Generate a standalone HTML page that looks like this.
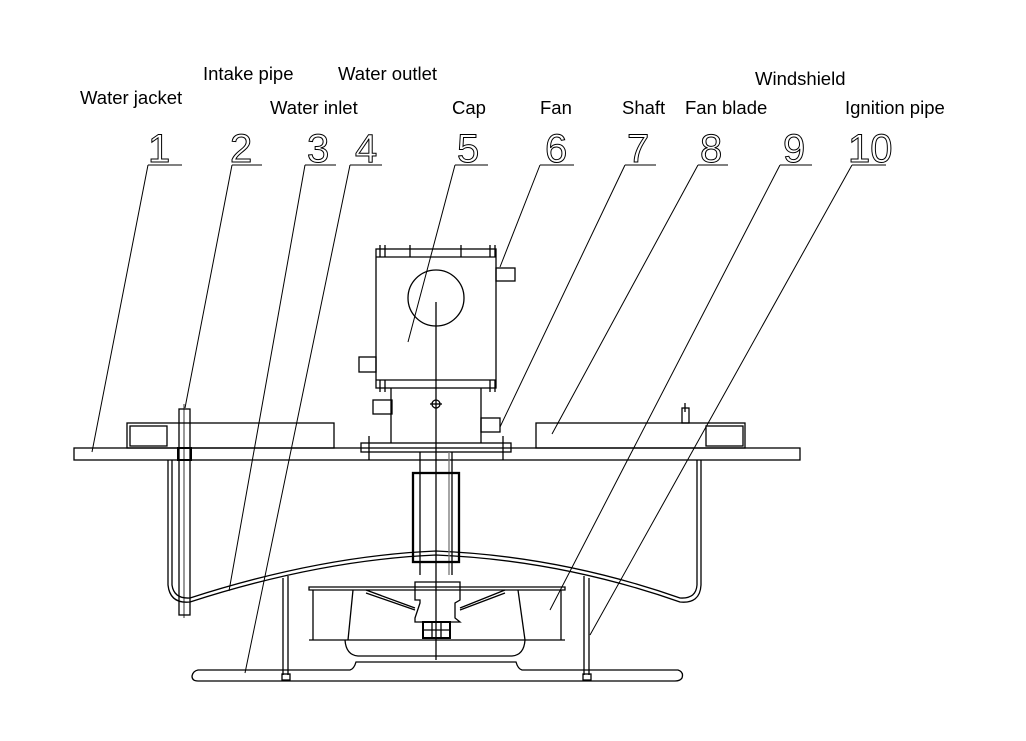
<!DOCTYPE html>
<html><head><style>
body{margin:0;background:#fff;}
svg{display:block;}
text{font-family:"Liberation Sans",Arial,sans-serif;font-size:18.5px;fill:#000;}
.n{font-family:"Liberation Sans",sans-serif;font-size:40px;font-weight:100;fill:none;stroke:#000;stroke-width:1;}
</style></head><body>
<svg width="1026" height="741" viewBox="0 0 1026 741" xmlns="http://www.w3.org/2000/svg">
<rect width="1026" height="741" fill="#fff"/>
<g>
<text x="80" y="104">Water jacket</text>
<text x="203" y="80">Intake pipe</text>
<text x="338" y="80">Water outlet</text>
<text x="270" y="114">Water inlet</text>
<text x="452" y="114">Cap</text>
<text x="540" y="114">Fan</text>
<text x="622" y="114">Shaft</text>
<text x="685" y="114">Fan blade</text>
<text x="755" y="85">Windshield</text>
<text x="845" y="114">Ignition pipe</text>
</g>
<g>
<text class="n" x="148" y="162">1</text>
<text class="n" x="230" y="162">2</text>
<text class="n" x="307" y="162">3</text>
<text class="n" x="355" y="162">4</text>
<text class="n" x="457" y="162">5</text>
<text class="n" x="545" y="162">6</text>
<text class="n" x="627" y="162">7</text>
<text class="n" x="700" y="162">8</text>
<text class="n" x="783" y="162">9</text>
<text class="n" x="848" y="162">10</text>
</g>
<g stroke="#000" stroke-width="1" fill="none">
<path d="M148 165H182M148 165L92 452"/>
<path d="M232 165H262M232 165L185 408"/>
<path d="M305 165H336M305 165L229 591"/>
<path d="M350 165H382M350 165L245 673"/>
<path d="M455 165H488M455 165L408 342"/>
<path d="M540 165H574M540 165L500 267"/>
<path d="M625 165H656M625 165L500 427"/>
<path d="M698 165H728M698 165L552 434"/>
<path d="M780 165H812M780 165L550 610"/>
<path d="M852 165H886M852 165L590 635"/>
</g>
<g stroke="#000" stroke-width="1.3" fill="none">
<rect x="74" y="448" width="726" height="12"/>
<rect x="127" y="423" width="207" height="25"/>
<rect x="130" y="426" width="37" height="20"/>
<rect x="536" y="423" width="209" height="25"/>
<rect x="706" y="426" width="37" height="20"/>
<rect x="682" y="408" width="7" height="15"/><path d="M685 403V412"/>
<rect x="179" y="409" width="11" height="206"/>
<path d="M184 404V618" stroke-width="0.8"/>
<rect x="178" y="448" width="13" height="12" stroke-width="2"/>
<path d="M168 460V585Q170 604 190 602Q320 560 436 555Q560 560 680 602Q700 604 701 585V460"/>
<path d="M172 460V585Q174 599 190 598Q320 556 436 551Q560 556 680 598Q696 599 697 585V460"/>
<rect x="376" y="249" width="120" height="139"/>
<path d="M376 257H496M376 380H496"/>
<circle cx="436" cy="298" r="28"/>
<rect x="359" y="357" width="17" height="15"/>
<rect x="496" y="268" width="19" height="13"/>
<path d="M380 245V257M385 245V257M490 245V257M495 245V257M410 245V257M461 245V257M380 380V392M385 380V392M490 380V392M495 380V392"/>
<path d="M391 388V443M481 388V443"/>
<rect x="373" y="400" width="19" height="14"/>
<rect x="481" y="418" width="19" height="14"/>
<rect x="361" y="443" width="150" height="9"/>
<path d="M369 436V460M503 436V460"/>
<circle cx="436" cy="404" r="4"/>
<path d="M430 404H442"/>
<path d="M436 302V660"/>
<path d="M420 452V575M452 452V575"/>
<path d="M449 452V575" stroke="#777"/>
<rect x="413" y="473" width="46" height="89" stroke-width="2.3"/>
<path d="M309 587H565V590H309Z"/>
<path d="M309 640H565"/>
<path d="M313 590V640M353 590L348 640M518 590L525 640M561 590V640"/>
<path d="M366 590L415 608M366 593L415 610M505 590L460 608M505 593L460 610"/>
<path d="M415 582H460V600L455 603V618L460 622H415V618L420 603V600L415 600Z"/>
<rect x="423" y="622" width="27" height="16" stroke-width="2"/>
<path d="M423 630H450M432 622V638M441 622V638"/>
<path d="M345 640Q346 655 358 656H512Q524 655 525 640"/>
<path d="M198 670H350Q354 669 356 662H516Q518 669 522 670H678Q684 672 682 678Q680 681 675 681H198Q192 681 192 676Q193 671 198 670Z"/>
<path d="M283 578V675M288 576V675M584 576V675M589 578V675"/>
<rect x="282" y="674" width="8" height="6"/>
<rect x="583" y="674" width="8" height="6"/>
</g>
</svg>
</body></html>
